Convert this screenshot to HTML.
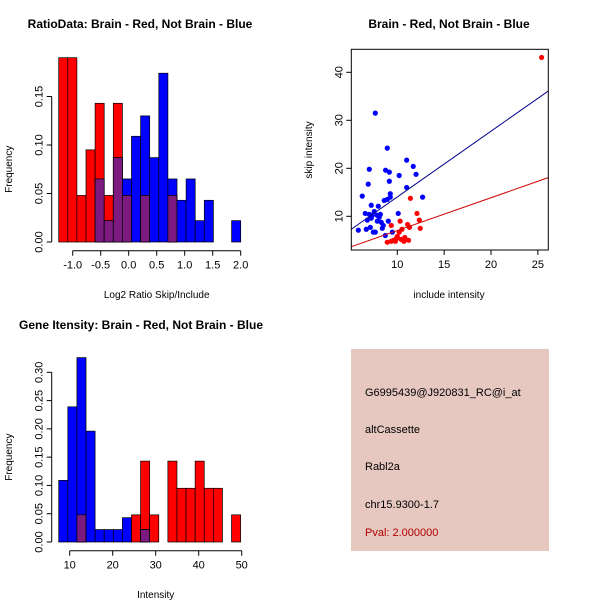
<!DOCTYPE html>
<html><head><meta charset="utf-8"><style>
body{margin:0;background:#fff}
svg{display:block;font-family:"Liberation Sans",sans-serif}
</style></head><body>
<svg id="c" width="600" height="600" xmlns="http://www.w3.org/2000/svg">
<rect width="600" height="600" fill="#fff"/>
<g id="p1"></g>
<g id="p2"></g>
<g id="p3"></g>
<g>
<rect x="351" y="349" width="198" height="202" fill="#e6c8c1"/>
<text x="365" y="396" font-size="11" fill="#000">G6995439@J920831_RC@i_at</text>
<text x="365" y="433" font-size="11" fill="#000">altCassette</text>
<text x="365" y="470" font-size="11" fill="#000">Rabl2a</text>
<text x="365" y="508" font-size="11" fill="#000">chr15.9300-1.7</text>
<text x="365" y="536" font-size="11" fill="#b00000">Pval: 2.000000</text>
</g>
</svg>
<script>
// Ratio histogram data
const ratioStart = -1.25, ratioWidth = 0.1625;
const ratioRed  = [0.19,0.19,0.048,0.095,0.143,0.048,0.143,0.048,0,0.048,0,0,0.048,0,0,0,0,0,0,0];
const ratioBlue = [0,0,0,0,0.065,0.022,0.087,0.065,0.109,0.130,0.087,0.174,0.065,0.043,0.065,0.022,0.043,0,0,0.022];
const ratioXTicks = [-1.0,-0.5,0.0,0.5,1.0,1.5,2.0];
const ratioXLabels = ["-1.0","-0.5","0.0","0.5","1.0","1.5","2.0"];
const ratioYTicks = [0,0.05,0.10,0.15];
const ratioYLabels = ["0.00","0.05","0.10","0.15"];
// Intensity histogram data
const intStart = 7.45, intWidth = 2.115;
const intRed  = [0,0,0.048,0,0,0,0,0,0.048,0.143,0.048,0,0.143,0.095,0.095,0.143,0.095,0.095,0,0.048];
const intBlue = [0.109,0.239,0.326,0.196,0.022,0.022,0.022,0.043,0,0.022,0,0,0,0,0,0,0,0,0,0];
const intXTicks = [10,20,30,40,50];
const intYTicks = [0,0.05,0.10,0.15,0.20,0.25,0.30];
const intYLabels = ["0.00","0.05","0.10","0.15","0.20","0.25","0.30"];
// Scatter data
const blueX = [7.65,8.93,6.26,7.01,6.90,8.75,9.15,9.15,10.2,11.0,11.7,12.0,11.0,12.7,9.25,9.25,8.93,8.6,7.22,7.97,6.58,7.54,7.01,7.33,7.86,8.08,8.19,7.22,6.80,7.86,8.29,10.1,9.04,5.84,6.69,7.12,7.44,7.65,8.4,8.72,9.47,8.5];
const blueY = [31.5,24.2,14.2,19.8,16.7,19.6,19.2,17.3,18.5,21.7,20.4,18.75,16.0,14.0,14.7,14.0,13.5,13.3,12.3,12.1,10.6,11.0,10.4,10.2,10.2,9.8,10.4,9.6,9.2,9.0,8.75,10.6,9.0,7.1,7.3,7.7,6.7,6.7,7.5,6.0,6.7,8.1];
const redX = [25.4,11.4,12.1,12.35,12.45,9.36,10.3,11.1,11.3,10.5,10.2,10.0,9.9,9.6,8.93,9.36,10.4,10.7,11.2,9.8,10.8];
const redY = [43.1,13.75,10.6,9.2,7.5,8.1,9.0,8.3,7.7,7.3,6.7,5.8,5.4,5.0,4.6,4.8,5.2,4.8,5.0,4.8,5.6];
const blueFit = [0.33,1.37];
const redFit = [0.19,0.684];
const scXTicks = [10,15,20,25];
const scYTicks = [10,20,30,40];

const NS="http://www.w3.org/2000/svg";
function mk(par,tag,at,txt){const e=document.createElementNS(NS,tag);for(const k in at)e.setAttribute(k,at[k]);if(txt!==undefined)e.textContent=txt;par.appendChild(e);return e;}

function hist(g,cfg){
  const sx=v=>cfg.x0+(v-cfg.d0)*cfg.kx, sy=v=>cfg.base-v*cfg.ky;
  for(let i=0;i<cfg.red.length;i++){
    const a=cfg.start+i*cfg.w, b=a+cfg.w;
    const r=cfg.red[i], bl=cfg.blue[i];
    if(r>0){const e=mk(g,'rect',{x:sx(a),y:sy(r),width:sx(b)-sx(a),height:sy(0)-sy(r),fill:'#ff0000',stroke:'#000','stroke-width':0.7});
      
      }
    if(bl>0){const e=mk(g,'rect',{x:sx(a),y:sy(bl),width:sx(b)-sx(a),height:sy(0)-sy(bl),fill:'#0000ff',stroke:'#000','stroke-width':0.7});
      
      }
    const m=Math.min(r,bl);
    if(m>0){const e=mk(g,'rect',{x:sx(a),y:sy(m),width:sx(b)-sx(a),height:sy(0)-sy(m),fill:'#7d1a80',stroke:'#000','stroke-width':0.7});
      
      }
  }
  // y axis
  const ya=cfg.yt, yl=cfg.axX;
  mk(g,'line',{x1:yl,x2:yl,y1:sy(ya[0]),y2:sy(ya[ya.length-1]),stroke:'#000'});
  ya.forEach((t,i)=>{mk(g,'line',{x1:yl-5,x2:yl,y1:sy(t),y2:sy(t),stroke:'#000'});
    const e=mk(g,'text',{x:yl-9,y:sy(t),'font-size':11,'text-anchor':'middle',transform:`rotate(-90 ${yl-9} ${sy(t)})`},cfg.yl[i]);
    
    });
  const xa=cfg.xt, xy=cfg.axY;
  mk(g,'line',{x1:sx(xa[0]),x2:sx(xa[xa.length-1]),y1:xy,y2:xy,stroke:'#000'});
  xa.forEach((t,i)=>{mk(g,'line',{x1:sx(t),x2:sx(t),y1:xy,y2:xy+5,stroke:'#000'});
    const e=mk(g,'text',{x:sx(t),y:xy+18,'font-size':11,'text-anchor':'middle'},cfg.xl[i]);
    
    });
  let e=mk(g,'text',{x:cfg.titleX,y:cfg.titleY,'font-size':12,'font-weight':'bold','text-anchor':'middle'},cfg.title);
  
  
  e=mk(g,'text',{x:(sx(xa[0])+sx(xa[xa.length-1]))/2,y:cfg.xlabY,'font-size':10,'text-anchor':'middle'},cfg.xlab);
  
  
  const cy=(sy(ya[0])+sy(ya[ya.length-1]))/2;
  e=mk(g,'text',{x:12,y:cy,'font-size':10,'text-anchor':'middle',transform:`rotate(-90 12 ${cy})`},'Frequency');
  
  
}
hist(document.getElementById('p1'),{start:ratioStart,w:ratioWidth,red:ratioRed,blue:ratioBlue,
  x0:72.7,d0:-1,kx:56,base:242,ky:970,yt:ratioYTicks,yl:ratioYLabels,xt:ratioXTicks,xl:ratioXLabels,
  axX:51.7,axY:250.7,title:'RatioData: Brain - Red, Not Brain - Blue',titleX:140,titleY:28,xlab:'Log2 Ratio Skip/Include',xlabY:298});
hist(document.getElementById('p3'),{start:intStart,w:intWidth,red:intRed,blue:intBlue,
  x0:69.7,d0:10,kx:4.3,base:542,ky:565.6,yt:intYTicks,yl:intYLabels,xt:intXTicks,xl:intXTicks.map(String),
  axX:51.7,axY:550.7,title:'Gene Itensity: Brain - Red, Not Brain - Blue',titleX:141,titleY:329,xlab:'Intensity',xlabY:598});

// Scatter
(function(){
  const g=document.getElementById('p2');
  const L=351.3,T=49.3,R=548.3,B=250;
  const sx=v=>397.3+(v-10)*9.37, sy=v=>216.3-(v-10)*4.8;
  const dxL=(L-397.3)/9.37+10, dxR=(R-397.3)/9.37+10;
  const cp=mk(g,'clipPath',{id:'sc'});mk(cp,'rect',{x:L,y:T,width:R-L,height:B-T});
  blueX.forEach((x,i)=>{const e=mk(g,'circle',{cx:sx(x),cy:sy(blueY[i]),r:2.6,fill:'#0000ff'});
    
    });
  redX.forEach((x,i)=>{const e=mk(g,'circle',{cx:sx(x),cy:sy(redY[i]),r:2.6,fill:'#ff0000'});
    
    });
  let e=mk(g,'line',{x1:L,x2:R,y1:sy(blueFit[0]+blueFit[1]*dxL),y2:sy(blueFit[0]+blueFit[1]*dxR),stroke:'#00008b','clip-path':'url(#sc)'});
  
  
  e=mk(g,'line',{x1:L,x2:R,y1:sy(redFit[0]+redFit[1]*dxL),y2:sy(redFit[0]+redFit[1]*dxR),stroke:'#cc0000','clip-path':'url(#sc)'});
  
  
  e=mk(g,'rect',{x:L,y:T,width:R-L,height:B-T,fill:'none',stroke:'#000'});
  
  
  scXTicks.forEach(t=>{mk(g,'line',{x1:sx(t),x2:sx(t),y1:B,y2:B+5,stroke:'#000'});
    const e=mk(g,'text',{x:sx(t),y:B+18,'font-size':11,'text-anchor':'middle'},String(t));
    
    });
  scYTicks.forEach(t=>{mk(g,'line',{x1:L-5,x2:L,y1:sy(t),y2:sy(t),stroke:'#000'});
    const e=mk(g,'text',{x:L-9,y:sy(t),'font-size':11,'text-anchor':'middle',transform:`rotate(-90 ${L-9} ${sy(t)})`},String(t));
    
    });
  e=mk(g,'text',{x:449,y:28,'font-size':12,'font-weight':'bold','text-anchor':'middle'},'Brain - Red, Not Brain - Blue');
  
  
  e=mk(g,'text',{x:449,y:298,'font-size':10,'text-anchor':'middle'},'include intensity');
  
  
  e=mk(g,'text',{x:312,y:150,'font-size':10,'text-anchor':'middle',transform:'rotate(-90 312 150)'},'skip intensity');
  
  
})();
</script>
</body></html>
